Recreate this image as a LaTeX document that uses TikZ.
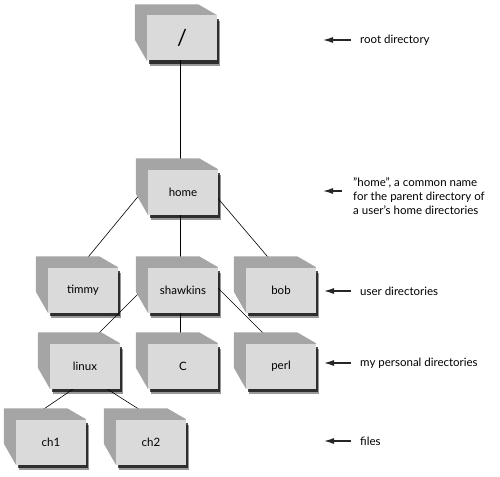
\documentclass[tikz,border=0pt]{standalone}
\usepackage{fontspec}
\setmainfont{Lato}
\usetikzlibrary{arrows.meta,shadows}
\pgfdeclarelayer{edges}
\pgfdeclarelayer{sides}
\pgfsetlayers{edges,sides,main}
\definecolor{facegray}{HTML}{DADADA}
\definecolor{sidegray}{HTML}{A5A5A5}
\begin{document}
\begin{tikzpicture}[
    x=1pt, y=-1pt,
    dir/.style={
      rectangle,
      fill=facegray,
      minimum width=70pt,
      minimum height=45pt,
      inner sep=0pt,
      font=\fontsize{11.5}{13}\selectfont,
      drop shadow={shadow xshift=3pt, shadow yshift=-5.5pt, fill=black, opacity=0.4},
      drop shadow={shadow xshift=2pt, shadow yshift=-3.5pt, fill=black, opacity=0.7}
    },
    note/.style={anchor=west, inner sep=0pt, align=left, font=\fontsize{11.5}{14}\selectfont},
    pointer/.style={-{Latex[length=10pt,width=6pt]}, line width=1.2pt, black!85},
    link/.style={black, line width=0.6pt}
]
\useasboundingbox (0,0) rectangle (500,476);

\node[dir, font=\fontsize{22}{24}\selectfont] (root) at (182,38) {/};
\node[dir] (home) at (183,192) {home};

\node[dir] (timmy) at (83,290) {timmy};
\node[dir] (shawkins) at (183,290) {shawkins};
\node[dir] (bob) at (281,290) {bob};

\node[dir] (linux) at (85,366) {linux};
\node[dir] (C) at (183,366) {C};
\node[dir] (perl) at (281,366) {perl};

\node[dir] (ch1) at (51,442) {ch1};
\node[dir] (ch2) at (151,442) {ch2};

% grey top and left faces behind each box
\begin{pgfonlayer}{sides}
\foreach \d in {root,home,timmy,shawkins,bob,linux,C,perl,ch1,ch2}
  \fill[sidegray] ([shift={(-12,-11)}]\d.north west) -- ([shift={(-19,-11)}]\d.north east)
    -- (\d.north east) -- (\d.south west) -- ([shift={(-12,-21)}]\d.south west) -- cycle;
\end{pgfonlayer}

% tree lines, drawn behind the boxes
\begin{pgfonlayer}{edges}
\draw[link] ([xshift=-2pt]root.center) -- ([xshift=-3pt]home.center);
\draw[link] ([shift={(-33,-10)}]home.center) -- ([xshift=-22pt]timmy.center);
\draw[link] ([xshift=-3pt]home.center) -- ([xshift=-3pt]shawkins.center);
\draw[link] ([shift={(21,-10)}]home.center) -- ([xshift=15pt]bob.center);
\draw[link] ([shift={(-31,-10)}]shawkins.center) -- ([xshift=-19pt]linux.center);
\draw[link] ([xshift=-3pt]shawkins.center) -- ([xshift=-3pt]C.center);
\draw[link] ([shift={(27,-10)}]shawkins.center) -- ([xshift=15pt]perl.center);
\draw[link] ([xshift=22pt]linux.center) -- ([shift={(-16,-27)}]ch1.center);
\draw[link] ([xshift=-14pt]linux.center) -- ([shift={(-3,-27)}]ch2.center);
\end{pgfonlayer}

% notes on the right
\node[note] (rootlbl) at (360,40) {root directory};
\coordinate (rootptr) at (323,40);
\draw[pointer] ([xshift=-9pt]rootlbl.west) -- (rootptr);

\node[note] (homelbl) at (353,196) {"home", a common name\\for the parent directory of\\a user's home directories};
\coordinate (homeptr) at (323,191);
\draw[pointer] ([shift={(-11,-5)}]homelbl.west) -- (homeptr);

\node[note] (userlbl) at (360,291) {user directories};
\coordinate (userptr) at (324,291);
\draw[pointer] ([xshift=-9pt]userlbl.west) -- (userptr);

\node[note] (ownlbl) at (360,363) {my personal directories};
\coordinate (ownptr) at (324,363);
\draw[pointer] ([xshift=-9pt]ownlbl.west) -- (ownptr);

\node[note] (fileslbl) at (360,441) {files};
\coordinate (filesptr) at (324,441);
\draw[pointer] ([xshift=-9pt]fileslbl.west) -- (filesptr);

\end{tikzpicture}
\end{document}
